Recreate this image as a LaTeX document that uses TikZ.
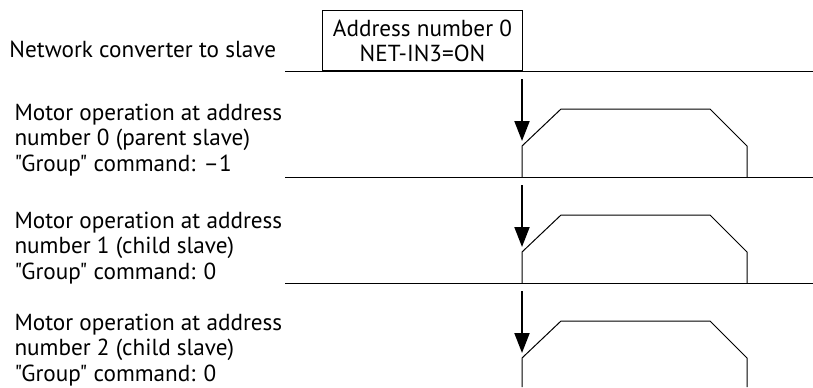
\documentclass[tikz,border=0pt]{standalone}
\usepackage{fontspec}
\newfontfamily\labelfont{PT Sans}
\usetikzlibrary{arrows.meta}
\begin{document}
\begin{tikzpicture}[x=0.5pt,y=-0.5pt,line width=0.5pt,
    rowlabel/.style={align=left,anchor=west,inner sep=0pt,font=\labelfont\fontsize{11.6}{12.8}\selectfont},
    trigger/.style={-{Triangle[length=10pt,width=7.5pt]},line width=1pt}]
    \useasboundingbox (0,0) rectangle (813,387);
    % network converter
    \node[rowlabel] (netlabel) at (9,49) {Network converter to slave};
    \node[draw,anchor=south west,minimum width=100pt,minimum height=30pt,inner sep=0pt,
        align=center,font=\labelfont\fontsize{11.6}{12.5}\selectfont] (cmdbox) at (322,71)
        {Address number 0\\NET-IN3=ON};
    \draw (285,71) -- (813,71);
    % parent slave
    \scope
    \node[rowlabel] (parent) at (14,140) {Motor operation at address\\number 0 (parent slave)\\"Group" command: –1};
    \draw (285,177) -- (813,177);
    \draw (522,177) -- (522,146) -- (561,109) -- (710,109) -- (747,146) -- (747,177);
    \coordinate (trig0s) at (522,79);
    \coordinate (trig0e) at (522,141);
    \draw[trigger] (trig0s) -- (trig0e);
    \endscope
    % child slave 1
    \scope[shift={(0,106)}]
    \node[rowlabel] (child1) at (14,142) {Motor operation at address\\number 1 (child slave)\\"Group" command: 0};
    \draw (285,177) -- (813,177);
    \draw (522,177) -- (522,146) -- (561,109) -- (710,109) -- (747,146) -- (747,177);
    \coordinate (trig1s) at (522,79);
    \coordinate (trig1e) at (522,141);
    \draw[trigger] (trig1s) -- (trig1e);
    \endscope
    % child slave 2
    \scope[shift={(0,212)}]
    \node[rowlabel] (child2) at (14,138) {Motor operation at address\\number 2 (child slave)\\"Group" command: 0};
    \draw (522,175) -- (522,146) -- (561,109) -- (710,109) -- (747,146) -- (747,175);
    \coordinate (trig2s) at (522,79);
    \coordinate (trig2e) at (522,141);
    \draw[trigger] (trig2s) -- (trig2e);
    \endscope
\end{tikzpicture}
\end{document}
